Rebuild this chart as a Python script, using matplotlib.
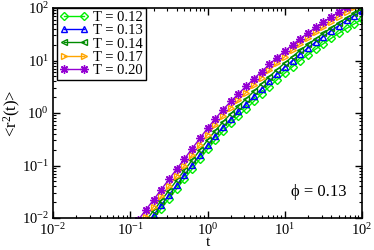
"""Mean squared displacement vs time for several temperatures"""
import numpy as np
import matplotlib
matplotlib.use('Agg')
import matplotlib.pyplot as plt

plt.rcParams['font.family'] = ['Liberation Serif', 'DejaVu Serif']
plt.rcParams['mathtext.fontset'] = 'custom'
plt.rcParams['mathtext.rm'] = 'Liberation Serif'
plt.rcParams['mathtext.it'] = 'Liberation Serif:italic'

# time grid
t = [0.1, 0.126, 0.158, 0.2, 0.251, 0.316, 0.398, 0.501, 0.631, 0.794,
     1.0, 1.26, 1.58, 2.0, 2.51, 3.16, 3.98, 5.01, 6.31, 7.94,
     10.0, 12.6, 15.8, 20.0, 25.1, 31.6, 39.8, 50.1, 63.1, 79.4, 100.0]

msd_012 = [0.00263, 0.00406, 0.00628, 0.00971, 0.0150, 0.0232, 0.0358, 0.0553, 0.0855, 0.132,
           0.204, 0.305, 0.445, 0.634, 0.873, 1.20, 1.67, 2.31, 3.17, 4.30,
           5.75, 7.62, 9.98, 12.9, 16.5, 20.9, 26.4, 33.0, 40.8, 49.9, 61.0]
msd_013 = [0.00302, 0.00469, 0.00728, 0.0113, 0.0175, 0.0272, 0.0423, 0.0656, 0.102, 0.158,
           0.245, 0.368, 0.540, 0.773, 1.07, 1.48, 2.07, 2.90, 4.03, 5.52,
           7.46, 10.0, 13.2, 17.3, 22.4, 28.6, 36.6, 46.2, 57.8, 71.3, 88.1]
msd_014 = [0.00363, 0.00565, 0.00881, 0.0137, 0.0213, 0.0333, 0.0518, 0.0805, 0.126, 0.195,
           0.304, 0.458, 0.673, 0.966, 1.34, 1.86, 2.59, 3.59, 4.93, 6.70,
           8.97, 11.9, 15.6, 20.2, 25.9, 32.9, 41.6, 52.1, 64.6, 78.9, 96.6]
msd_017 = [0.00427, 0.00668, 0.0105, 0.0164, 0.0257, 0.0403, 0.0631, 0.0989, 0.158, 0.248,
           0.389, 0.589, 0.871, 1.26, 1.76, 2.45, 3.41, 4.73, 6.50, 8.83,
           11.8, 15.7, 20.6, 26.7, 34.2, 43.4, 54.8, 68.7, 85.1, 104.0, 127.0]
msd_020 = [0.00575, 0.00902, 0.0141, 0.0221, 0.0347, 0.0543, 0.0851, 0.133, 0.209, 0.327,
           0.513, 0.776, 1.15, 1.66, 2.32, 3.24, 4.47, 6.17, 8.41, 11.4,
           15.1, 20.0, 26.0, 33.5, 42.7, 53.7, 67.6, 84.1, 104.0, 126.0, 153.0]

labels = ["T = 0.12", "T = 0.13", "T = 0.14", "T = 0.17", "T = 0.20"]
colors = ['#00ee00', '#0000ff', '#008b00', '#ffa500', '#9400d3']
markers = ['D', '^', '<', '>', (8, 2, 0)]
sizes = [4, 5, 5, 5, 6]

fig = plt.figure(figsize=(3.74, 2.5), dpi=100)
ax = fig.add_axes([0.1417, 0.128, 0.8263, 0.84])

for y, lab, c, m, s in zip([msd_012, msd_013, msd_014, msd_017, msd_020],
                           labels, colors, markers, sizes):
    ax.plot(t, y, color=c, marker=m, ms=s, mfc='none', mec=c, mew=1.0,
            lw=1.0, label=lab)

ax.set_xscale('log')
ax.set_yscale('log')
ax.set_xlim(1e-2, 1e2)
ax.set_ylim(1e-2, 1e2)
ax.set_xlabel("t", fontsize=11, labelpad=-1.5)
ax.set_ylabel(r"<r$^2$(t)>", fontsize=12, labelpad=-1)
ax.tick_params(which='both', direction='in', top=True, right=True, labelsize=10.5)
ax.tick_params(axis='x', pad=3)
ax.tick_params(axis='y', pad=3)
ax.tick_params(which='major', length=5, width=1)
ax.tick_params(which='minor', length=2.5, width=0.8)
for sp in ax.spines.values():
    sp.set_linewidth(1.2)

ax.text(0.951, 0.105, "\u03d5 = 0.13", transform=ax.transAxes,
        ha='right', va='baseline', fontsize=12)

leg = ax.legend(loc='upper left', bbox_to_anchor=(0.012, 1.0), borderaxespad=0,
                numpoints=2, handlelength=2.0, handletextpad=0.3,
                labelspacing=0.0, borderpad=0.2, fontsize=10.5,
                fancybox=False, framealpha=1, edgecolor='black')
leg.get_frame().set_linewidth(1.0)

plt.savefig("out.png", dpi=100)
